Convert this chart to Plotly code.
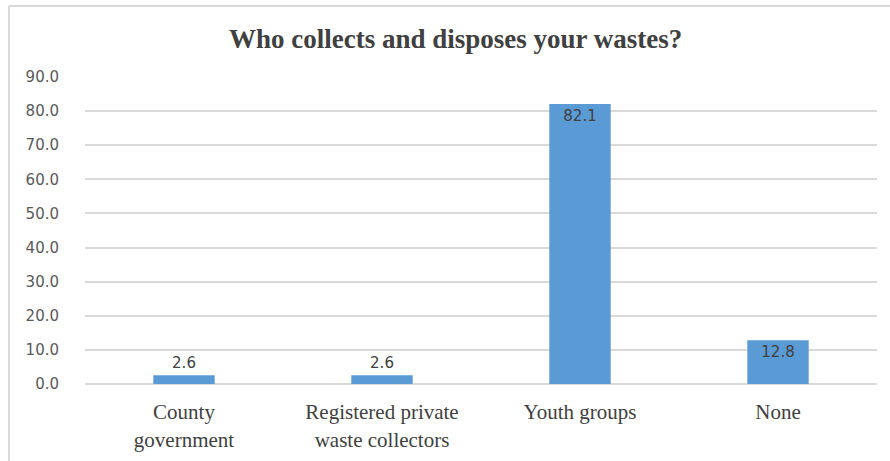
import plotly.graph_objects as go

categories = ["County<br>government", "Registered private<br>waste collectors", "Youth groups", "None"]
values = [2.6, 2.6, 82.1, 12.8]
label_positions = ["outside", "outside", "inside", "inside"]
tick_vals = [0, 10, 20, 30, 40, 50, 60, 70, 80, 90]
tick_text = [f"{v:.1f}" for v in tick_vals]
title_text = "Who collects and disposes your wastes?"

W, H = 890, 461
ml, mr, mt, mb = 85, 13, 77, 77

fig = go.Figure(go.Bar(
    x=categories,
    y=values,
    text=[f"{v:.1f}" for v in values],
    textposition=label_positions,
    insidetextanchor="end",
    textfont=dict(family="DejaVu Sans", size=15, color="#404040"),
    insidetextfont=dict(family="DejaVu Sans", size=15, color="#404040"),
    outsidetextfont=dict(family="DejaVu Sans", size=15, color="#404040"),
    marker=dict(color="#5B9BD5", line=dict(width=0)),
    cliponaxis=False,
))

pw = W - ml - mr
ph = H - mt - mb
# outer frame in paper coords
x0 = (9 - ml) / pw
y1 = 1 + (mt - 6) / ph
fig.add_shape(type="line", xref="paper", yref="paper", x0=x0, x1=x0, y0=-(mb + 5) / ph, y1=y1,
              line=dict(color="#D9D9D9", width=2))
fig.add_shape(type="line", xref="paper", yref="paper", x0=x0, x1=1 + (mr + 5) / pw, y0=y1, y1=y1,
              line=dict(color="#D9D9D9", width=2))

fig.update_layout(
    width=W, height=H,
    margin=dict(l=ml, r=mr, t=mt, b=mb, autoexpand=False),
    paper_bgcolor="white", plot_bgcolor="white",
    bargap=0.69,
    showlegend=False,
    title=dict(text=f"<b>{title_text}</b>", x=0.512, xanchor="center", y=1 - 39 / H, yanchor="middle",
               font=dict(family="Liberation Serif", size=27, color="#404040")),
    xaxis=dict(showline=False, ticks="outside", ticklen=9, tickcolor="rgba(0,0,0,0)", showgrid=False,
               automargin=False,
               tickfont=dict(family="Liberation Serif", size=21, color="#404040")),
    yaxis=dict(range=[0, 90], tickvals=tick_vals, ticktext=tick_text, showline=False, automargin=False,
               gridcolor="#D9D9D9", gridwidth=1.5, zeroline=True, zerolinecolor="#D9D9D9", zerolinewidth=1.5,
               ticks="outside", ticklen=22, tickcolor="rgba(0,0,0,0)",
               tickfont=dict(family="DejaVu Sans", size=15, color="#595959")),
)

fig.write_html("out.html")
